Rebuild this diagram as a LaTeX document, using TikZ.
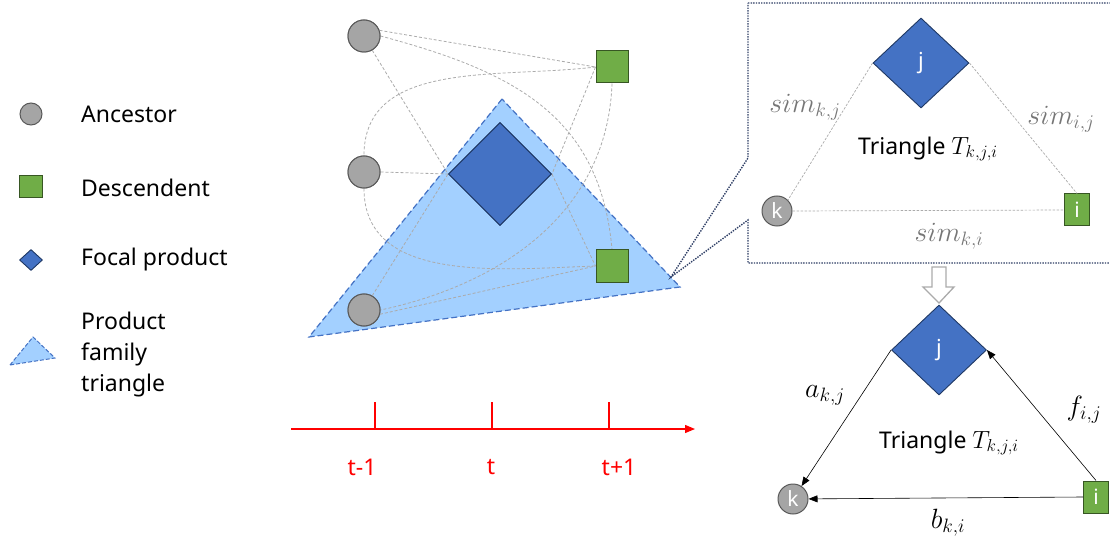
\documentclass[tikz,border=0pt]{standalone}
\usepackage{fontspec}
\setmainfont{Noto Sans}
\usetikzlibrary{shapes.geometric,arrows.meta}
\definecolor{ancgray}{HTML}{A5A5A5}
\definecolor{ancline}{HTML}{595959}
\definecolor{desgreen}{HTML}{70AD47}
\definecolor{desline}{HTML}{375623}
\definecolor{focblue}{HTML}{4472C4}
\definecolor{focline}{HTML}{1F3864}
\definecolor{trifill}{HTML}{A3D0FF}
\definecolor{linkgray}{HTML}{ABABAB}
\definecolor{labgray}{HTML}{767676}
\definecolor{boxnavy}{HTML}{2F3F66}
\definecolor{timered}{HTML}{FF0000}
\newcommand{\mlabtext}[1]{\scalebox{1.12}{$#1$}}
\tikzset{
  anc/.style={circle,fill=ancgray,draw=ancline,line width=1pt,inner sep=0pt,minimum size=#1,text=white,font=\fontsize{21}{21}\selectfont},
  des/.style={rectangle,fill=desgreen,draw=desline,line width=1pt,inner sep=0pt,text=white,font=\fontsize{21}{21}\selectfont},
  foc/.style={diamond,fill=focblue,draw=focline,line width=0.9pt,inner sep=0pt,aspect=1,text=white,font=\fontsize{22}{22}\selectfont},
  link/.style={draw=linkgray,line width=0.8pt,dash pattern=on 3pt off 2pt},
  callout/.style={draw=boxnavy,line width=1.4pt,dash pattern=on 1.4pt off 1.2pt},
  legtext/.style={anchor=west,inner sep=0pt,font=\fontsize{23}{31}\selectfont,align=left},
  txt/.style={inner sep=0pt,font=\fontsize{23}{28}\selectfont},
  mlab/.style={inner sep=0pt,font=\fontsize{24}{30}\selectfont,text=labgray},
  blab/.style={inner sep=0pt,font=\fontsize{24}{30}\selectfont},
  tlab/.style={inner sep=0pt,text=timered,font=\fontsize{23}{28}\selectfont},
  tick/.style={draw=timered,line width=1.2pt},
  arr/.style={draw=black,line width=0.6pt,-{Triangle[length=9pt,width=7pt]}}
}
\begin{document}
\begin{tikzpicture}[x=1pt,y=-1pt]
\useasboundingbox (0,0) rectangle (1110,537);
% ---------- legend ----------
\node[anc=22pt] (la) at (31,114) {};
\node[des,minimum width=23pt,minimum height=22pt] (ld) at (31,187) {};
\node[foc,minimum width=23pt,minimum height=21pt] (lf) at (31,260) {};
\draw[fill=trifill,draw=focblue,line width=1pt,dash pattern=on 4pt off 2pt] (10,365) -- (33,337) -- (55,358) -- cycle;
\node[legtext] (ta) at (81,114) {Ancestor};
\node[legtext] (td) at (81,188) {Descendent};
\node[legtext] (tf) at (81,260) {Focal product};
\node[legtext] (tp) at (81,355) {Product\\family\\triangle};
% ---------- family triangle ----------
\draw[fill=trifill,draw=focblue,line width=1.2pt,dash pattern=on 6pt off 3pt] (502,99) -- (309,337) -- (680,287) -- cycle;
% ---------- nodes of left graph ----------
\node[anc=32pt] (c1) at (364,36) {};
\node[anc=32pt] (c2) at (364,172) {};
\node[anc=32pt] (c3) at (364,310) {};
\node[des,minimum size=32pt] (s1) at (612,67) {};
\node[des,minimum size=32pt] (s2) at (612,266) {};
\node[foc,minimum width=103pt,minimum height=103pt] (d) at (500,174) {};
% ---------- links ----------
\draw[link] (c1.20) -- (s1.west);
\draw[link] (c1.east) to[out=-15,in=95,looseness=1.1] (s2.north);
\draw[link] (c1.-60) -- (d.west);
\draw[link] (s1.west) -- (d.east);
\draw[link] (d.east) -- (s2.west);
\draw[link] (s1.west) to[out=187,in=90] (c2.north);
\draw[link] (s1.south) to[out=-92,in=12] (c3.east);
\draw[link] (c2.east) -- (d.west);
\draw[link] (c2.south) to[out=-90,in=182] (s2.west);
\draw[link] (c3.60) -- (d.west);
\draw[link] (c3.-15) -- (s2.west);
% redraw nodes above links
\node[anc=32pt] at (c1) {};
\node[anc=32pt] at (c2) {};
\node[anc=32pt] at (c3) {};
\node[des,minimum size=32pt] at (s1) {};
\node[des,minimum size=32pt] at (s2) {};
\node[foc,minimum width=103pt,minimum height=103pt] at (d) {};
% ---------- time axis ----------
\coordinate (ax0) at (291,429);
\coordinate (ax1) at (695,429);
\draw[timered,line width=1.2pt,-{Triangle[length=10pt,width=8pt]}] (ax0) -- (ax1);
\draw[tick] (375,402) -- (375,429);
\draw[tick] (492,402) -- (492,429);
\draw[tick] (609,402) -- (609,429);
\node[tlab] (tm1) at (362,467) {t-1};
\node[tlab] (t0) at (491,467) {t};
\node[tlab] (tp1) at (619,467) {t+1};
% ---------- callout box ----------
\draw[callout] (748,3) -- (1113,3) -- (1113,263) -- (748,263) -- (748,220) -- (671,277) -- (748,158) -- cycle;
% ---------- top right triangle ----------
\node[anc=30pt] (k1) at (777,211) {k};
\node[des,minimum width=25pt,minimum height=32pt] (i1) at (1077,210) {i};
\node[foc,minimum width=96pt,minimum height=90pt] (j1) at (921,63) {j};
\draw[link,line width=0.7pt,dash pattern=on 2.5pt off 1.5pt] (j1.west) -- (k1.45);
\draw[link,line width=0.7pt,dash pattern=on 2.5pt off 1.5pt] (j1.east) -- (i1.north);
\draw[link,line width=0.7pt,dash pattern=on 2.5pt off 1.5pt] (k1.east) -- (i1.west);
\node[mlab] (skj) at (805,107) {\mlabtext{sim_{k,j}}};
\node[mlab] (sij) at (1061,119) {\mlabtext{sim_{i,j}}};
\node[mlab] (ski) at (949,236) {\mlabtext{sim_{k,i}}};
\node[txt] (tri1) at (928,149) {Triangle $T_{k,j,i}$};
% ---------- hollow arrow ----------
\draw[draw=linkgray,fill=white,line width=1.3pt] (932,267) -- (946,267) -- (946,287) -- (954,287) -- (939,303) -- (923,287) -- (932,287) -- cycle;
% ---------- bottom right triangle ----------
\node[anc=30pt] (k2) at (793,499) {k};
\node[des,minimum width=25pt,minimum height=32pt] (i2) at (1096,497) {i};
\node[foc,minimum width=95pt,minimum height=90pt] (j2) at (939,350) {j};
\draw[arr] (j2.west) -- (k2);
\draw[arr] (i2.north) -- (j2.east);
\draw[arr] (i2.west) -- (k2);
\node[blab] (akj) at (825,395) {\mlabtext{a_{k,j}}};
\node[blab] (fij) at (1084,410) {\mlabtext{f_{i,j}}};
\node[blab] (bki) at (948,523) {\mlabtext{b_{k,i}}};
\node[txt] (tri2) at (949,443) {Triangle $T_{k,j,i}$};
\end{tikzpicture}
\end{document}
